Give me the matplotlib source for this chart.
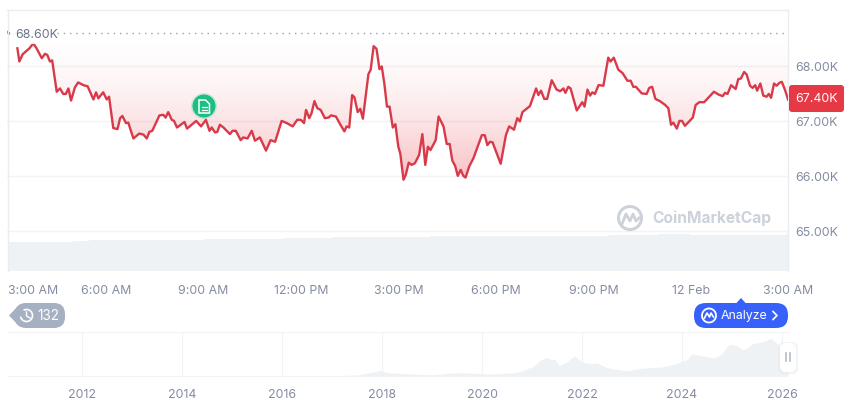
import numpy as np
import matplotlib
matplotlib.use("Agg")
import matplotlib.pyplot as plt
from matplotlib.patches import FancyBboxPatch, Circle, Arc, Polygon, Rectangle
from matplotlib.colors import to_rgb
from matplotlib.transforms import ScaledTranslation

plt.rcParams['font.family'] = ['Inter', 'DejaVu Sans']

# price, hours after 3:00 AM and price in thousands
hours = [0.0, 0.08, 0.32, 0.38, 0.48, 0.69, 0.81, 0.91, 1.07, 1.17, 1.24, 1.32, 1.39, 1.53, 1.63, 1.73, 1.81, 1.89, 1.97, 2.09,
         2.19, 2.35, 2.48, 2.66, 2.74, 2.81, 2.96, 3.07, 3.14, 3.27, 3.40, 3.48, 3.55, 3.66, 3.73, 3.89, 4.07, 4.20, 4.30, 4.38,
         4.47, 4.69, 4.81, 4.88, 4.96, 5.07, 5.14, 5.23, 5.46, 5.54, 5.82, 5.97, 6.12, 6.23, 6.30, 6.40, 6.47, 6.55, 6.66, 6.86,
         6.94, 7.04, 7.19, 7.27, 7.40, 7.53, 7.63, 7.78, 7.97, 8.11, 8.25, 8.45, 8.61, 8.79, 8.93, 9.04, 9.14, 9.20, 9.30, 9.37,
         9.46, 9.55, 9.65, 9.78, 9.89, 9.97, 10.12, 10.25, 10.38, 10.45, 10.53, 10.62, 10.69, 10.79, 10.87, 10.95, 11.12, 11.19, 11.28, 11.37,
         11.46, 11.53, 11.61, 11.69, 11.77, 11.87, 11.95, 12.04, 12.10, 12.20, 12.27, 12.36, 12.45, 12.55, 12.68, 12.78, 12.87, 12.95, 13.03, 13.19,
         13.28, 13.43, 13.53, 13.62, 13.70, 13.79, 13.87, 13.96, 14.04, 14.11, 14.22, 14.35, 14.61, 14.70, 14.78, 14.86, 14.94, 15.19, 15.35, 15.45,
         15.60, 15.70, 15.78, 15.86, 16.09, 16.28, 16.35, 16.43, 16.53, 16.62, 16.76, 16.91, 17.02, 17.12, 17.18, 17.27, 17.34, 17.53, 17.70, 17.77,
         17.86, 17.94, 18.01, 18.09, 18.20, 18.35, 18.50, 18.57, 18.67, 18.81, 18.94, 19.09, 19.19, 19.27, 19.35, 19.53, 19.68, 19.76, 19.85, 19.95,
         20.09, 20.25, 20.35, 20.43, 20.50, 20.61, 20.69, 20.77, 20.86, 21.10, 21.19, 21.30, 21.45, 21.75, 21.89, 22.02, 22.09, 22.17, 22.28, 22.42,
         22.50, 22.58, 22.68, 22.76, 22.86, 22.94, 23.02, 23.08, 23.18, 23.27, 23.37, 23.44, 23.51, 23.60, 23.68, 23.76, 23.84, 23.94, 24.03]
price = [68.63, 68.60, 68.33, 68.09, 68.22, 68.33, 68.42, 68.33, 68.15, 68.23, 68.21, 68.09, 68.11, 67.54, 67.60, 67.50, 67.50, 67.60, 67.38, 67.62,
         67.71, 67.66, 67.64, 67.40, 67.53, 67.42, 67.53, 67.40, 67.45, 66.88, 66.86, 67.06, 67.10, 66.97, 66.98, 66.69, 66.78, 66.76, 66.69, 66.81,
         66.83, 67.11, 67.12, 67.07, 67.17, 67.03, 67.01, 66.89, 66.99, 66.87, 67.01, 66.91, 67.03, 66.83, 66.89, 66.80, 66.81, 66.94, 66.89, 66.77,
         66.83, 66.83, 66.66, 66.71, 66.69, 66.83, 66.65, 66.71, 66.47, 66.66, 66.63, 67.01, 66.97, 66.91, 67.03, 67.03, 66.97, 67.21, 67.06, 67.15,
         67.37, 67.24, 67.21, 67.06, 67.07, 67.11, 67.09, 66.95, 66.82, 66.91, 66.89, 67.48, 67.44, 67.17, 67.23, 67.05, 67.86, 67.94, 68.37, 68.32,
         67.95, 68.00, 67.69, 67.27, 67.27, 66.89, 66.95, 66.54, 66.42, 65.94, 66.03, 66.25, 66.21, 66.24, 66.39, 66.77, 66.21, 66.54, 66.48, 66.66,
         67.09, 66.91, 66.59, 66.59, 66.29, 66.19, 66.01, 66.12, 66.01, 65.98, 66.18, 66.33, 66.75, 66.75, 66.57, 66.63, 66.62, 66.23, 66.75, 66.91,
         66.85, 67.06, 67.00, 67.17, 67.28, 67.60, 67.48, 67.56, 67.41, 67.41, 67.75, 67.58, 67.55, 67.60, 67.52, 67.63, 67.60, 67.20, 67.35, 67.27,
         67.58, 67.47, 67.53, 67.50, 67.66, 67.65, 68.16, 68.09, 68.16, 67.94, 67.88, 67.74, 67.74, 67.63, 67.63, 67.51, 67.50, 67.61, 67.63, 67.41,
         67.37, 67.30, 67.24, 66.94, 66.98, 66.87, 67.01, 67.01, 66.92, 67.07, 67.30, 67.35, 67.35, 67.54, 67.49, 67.46, 67.52, 67.50, 67.66, 67.59,
         67.77, 67.78, 67.90, 67.85, 67.65, 67.61, 67.66, 67.56, 67.69, 67.47, 67.45, 67.50, 67.43, 67.69, 67.65, 67.70, 67.72, 67.57, 67.40]
baseline = 68.60

# volume per half hour
volume = [29, 29, 29, 29, 30, 31, 31, 31, 31, 31, 31, 31, 32, 32, 32, 32, 32, 33, 33, 33, 34, 34, 34, 34,
          34, 34, 35, 35, 35, 35, 35, 35, 35, 35, 35, 35, 35, 36, 36, 36, 37, 37, 36, 36, 36, 36, 36, 36]
volume_last = 37

y_ticks = [65, 66, 67, 68]
y_labels = ["65.00K", "66.00K", "67.00K", "68.00K"]
x_ticks = [0, 3, 6, 9, 12, 15, 18, 21, 24]
x_labels = ["3:00 AM", "6:00 AM", "9:00 AM", "12:00 PM", "3:00 PM", "6:00 PM", "9:00 PM", "12 Feb", "3:00 AM"]

# whole history in the navigator, thousands
hist_year = [2010.5, 2013.0, 2013.9, 2014.5, 2016.0, 2017.0, 2017.5, 2017.9, 2017.96, 2018.1, 2018.5, 2019.0, 2019.5, 2020.2, 2020.7,
             2021.0, 2021.08, 2021.15, 2021.3, 2021.38, 2021.45, 2021.55, 2021.7, 2021.85, 2021.92, 2022.0, 2022.15, 2022.3, 2022.45, 2022.6, 2022.9, 2023.2,
             2023.6, 2023.9, 2024.0, 2024.1, 2024.2, 2024.35, 2024.5, 2024.65, 2024.8, 2024.88, 2024.95, 2025.1, 2025.2, 2025.3, 2025.4, 2025.55,
             2025.65, 2025.7, 2025.78, 2025.9, 2026.0, 2026.12]
hist_price = [0, 0.1, 1, 0.5, 0.5, 1, 3, 15, 19, 11, 7, 4, 11, 6, 11,
              29, 38, 50, 60, 52, 55, 33, 45, 65, 55, 45, 40, 42, 30, 23, 17, 25,
              29, 40, 48, 52, 72, 66, 62, 58, 70, 90, 102, 96, 85, 88, 103, 108,
              112, 115, 122, 104, 88, 67]
hist_ticks = [2012, 2014, 2016, 2018, 2020, 2022, 2024, 2026]

W, H = 860, 401
GRID = "#f1f3f6"
GREY = "#858ca2"
RED = "#d93a4a"
FILL = "#ea3943"

fig = plt.figure(figsize=(W / 100, H / 100), dpi=100, facecolor="white")

def px_axes(x0, y0, x1, y1):
    return fig.add_axes([x0 / W, 1 - y1 / H, (x1 - x0) / W, (y1 - y0) / H])

# main chart
ax = px_axes(7, 10, 788, 271)
xlim = (0, 24.03)
ylim = (64.28, 69.027)
ax.set_facecolor("none")

vol_ax = ax.twinx()
vol_ax.set_ylim(0, 261)
vol_ax.set_xlim(xlim)
vol_x = np.arange(len(volume)) * 0.5
vol_ax.bar(vol_x + 0.28, volume, width=0.5, color="#eff2f5", linewidth=0)
vol_ax.bar([24.0], [volume_last], width=0.09, color="#eff2f5", linewidth=0)
vol_ax.axis("off")
vol_ax.set_zorder(0)
ax.set_zorder(1)

t = np.linspace(0, 1, 128)[:, None]
rgba = np.zeros((128, 2, 4))
rgba[..., :3] = to_rgb(FILL)
rgba[..., 3] = np.tile(t ** 1.6 * 0.32, (1, 2))
poly = ax.fill_between(hours, price, baseline, color="none", linewidth=0)
img = ax.imshow(rgba, extent=(xlim[0], xlim[1], 65.9, baseline), aspect="auto", zorder=1, origin="upper")
img.set_clip_path(poly.get_paths()[0], transform=ax.transData)

# the stretch between the green start and the first red point sits under the label
ax.plot(hours[2:], price[2:], color=RED, lw=1.7, zorder=3, solid_joinstyle="round")
ax.plot(hours[:2], price[:2], color="#16c784", lw=1.7, zorder=3)
ax.axhline(baseline, color="#9aa1ad", lw=1, dashes=(1, 3.5), zorder=2)

ax.set_xlim(xlim)
ax.set_ylim(ylim)
ax.yaxis.tick_right()
ax.set_yticks(y_ticks, y_labels)
ax.set_xticks(x_ticks, x_labels)
ax.tick_params(axis="both", length=0, labelsize=8.9, labelcolor=GREY)
ax.tick_params(axis="x", pad=10)
ax.tick_params(axis="y", pad=5)
shift = ScaledTranslation(1.5 / 100, 0, fig.dpi_scale_trans)
for lab in ax.get_xticklabels():
    lab.set_transform(lab.get_transform() + shift)
ax.get_xticklabels()[0].set_ha("left")
ax.grid(axis="y", color=GRID, lw=1, zorder=0)
ax.set_axisbelow(True)
for side in ["bottom", "left"]:
    ax.spines[side].set_visible(False)
for side in ["top", "right"]:
    ax.spines[side].set_color("#e9ecf0")
    ax.spines[side].set_linewidth(1)

# navigator
nav = px_axes(8, 332, 788, 376)
nav.fill_between(hist_year, hist_price, 0, color="#eff2f5", linewidth=0)
nav.set_xlim(2010.52, 2026.12)
nav.set_ylim(0, 141)
nav.set_yticks([])
nav.set_xticks(hist_ticks, [str(y) for y in hist_ticks])
nav.tick_params(axis="x", length=0, pad=9, labelsize=8.9, labelcolor=GREY)
nav.grid(axis="x", color=GRID, lw=0.8)
nav.set_axisbelow(True)
for side in ["left", "right"]:
    nav.spines[side].set_visible(False)
for side in ["top", "bottom"]:
    nav.spines[side].set_color(GRID)

# overlay in pixels for the page furniture
ov = fig.add_axes([0, 0, 1, 1], zorder=5)
ov.set_xlim(0, W)
ov.set_ylim(H, 0)
ov.axis("off")

def pill(x0, y0, x1, y1, r, color, **kw):
    p = FancyBboxPatch((x0 + r, y0 + r), x1 - x0 - 2 * r, y1 - y0 - 2 * r,
                       boxstyle=f"round,pad={r},rounding_size={r}", fc=color, ec="none", **kw)
    ov.add_patch(p)

# left edge of the plot
ov.plot([8, 8], [10, 271], color="#e9ecf0", lw=1)

# baseline label over a white fade
ov.add_patch(Rectangle((10, 27), 47, 17, fc="white", ec="none", alpha=0.85))
ov.text(15, 34.5, "68.60K", ha="left", va="center", fontsize=8.9, color="#6a7488")

# last price badge
pill(789, 85, 844, 112, 3, "#e63946")
ov.text(795, 98.5, "67.40K", ha="left", va="center", fontsize=8.9, color="white")

# news marker
ov.add_patch(Circle((204, 106), 13, fc="#16c784", ec="none", alpha=0.2))
ov.add_patch(Circle((204, 106), 11.5, fc="#1cbf83", ec="none"))
ov.add_patch(Polygon([(199, 100), (205.5, 100), (209.5, 104), (209.5, 113), (199, 113)], closed=True,
                     fc="none", ec="white", lw=1.1))
ov.plot([201.5, 207], [107, 107], color="white", lw=0.9)
ov.plot([201.5, 207], [110, 110], color="white", lw=0.9)

# watermark
ov.add_patch(Arc((630, 218), 23, 23, theta1=0, theta2=360, ec="#ccd1da", lw=2.2))
ov.plot([622, 626, 630, 633, 636, 639], [224, 214, 221, 214, 221, 218], color="#ccd1da", lw=2)
ov.text(652, 218.5, "CoinMarketCap", ha="left", va="center", fontsize=11.2, fontweight="bold", color="#ccd1da")

# history pill
pill(15, 303, 65, 328, 11, "#a6b0c3")
ov.add_patch(Polygon([(9, 315.5), (18, 306), (18, 325)], closed=True, fc="#a6b0c3", ec="none"))
ov.add_patch(Arc((26.5, 315.5), 12, 12, theta1=-120, theta2=170, ec="white", lw=1.2))
ov.plot([26.5, 26.5, 30], [312, 316, 318], color="white", lw=1)
ov.text(37, 315.5, "132", ha="left", va="center", fontsize=9.8, color="white")

# analyze pill
pill(694, 303, 788, 328, 12, "#3861fb")
ov.add_patch(Polygon([(736, 303.5), (741, 298), (746, 303.5)], closed=True, fc="#3861fb", ec="none"))
ov.add_patch(Arc((709, 315.5), 14, 14, theta1=0, theta2=360, ec="white", lw=1.3))
ov.plot([704.5, 707, 709.5, 711, 713.5], [318, 313, 317, 313, 317], color="white", lw=1.2)
ov.text(721, 315.5, "Analyze", ha="left", va="center", fontsize=8.9, color="white")
ov.plot([773, 777, 773], [311.5, 315.5, 319.5], color="white", lw=1.2)

# navigator handle
pill(778, 342, 798, 374, 6, "#e4e7ec", alpha=0.45)
pill(780, 343, 796, 372, 6, "white")
ov.plot([785.5, 785.5], [353, 361], color="#b5bcc8", lw=1.2)
ov.plot([789.5, 789.5], [353, 361], color="#b5bcc8", lw=1.2)

fig.savefig("out.png", dpi=100)
